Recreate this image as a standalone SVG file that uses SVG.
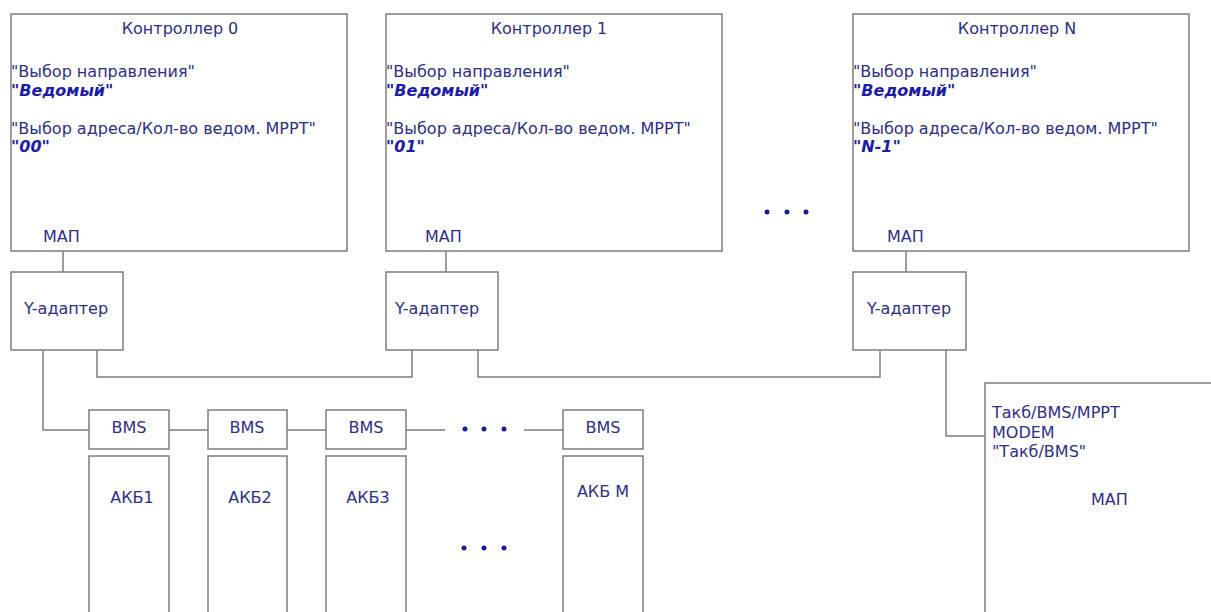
<svg xmlns="http://www.w3.org/2000/svg" width="1211" height="612" viewBox="0 0 1211 612">
<style>
.box{fill:#fff;stroke:#7d7d7d;stroke-width:1.5}
.ln{fill:none;stroke:#7d7d7d;stroke-width:1.5}
text{font-family:"DejaVu Sans","Liberation Sans",sans-serif;font-size:16px;fill:#2e2e86}
.v{font-weight:bold;font-style:italic;fill:#1c1ca8}
.m{text-anchor:middle}
.dot{fill:#1a1a9a}
</style>
<rect width="1211" height="612" fill="#fff"/>
<g id="connectors">
<path class="ln" d="M63 251V272"/>
<path class="ln" d="M446 251V272"/>
<path class="ln" d="M906 251V272"/>
<path class="ln" d="M43 350V430H89"/>
<path class="ln" d="M97 350V377H412V350"/>
<path class="ln" d="M478 350V377H880V350"/>
<path class="ln" d="M946 350V436H985"/>
<path class="ln" d="M169 430H208"/>
<path class="ln" d="M287 430H326"/>
<path class="ln" d="M406 430H445"/>
<path class="ln" d="M524 430H563"/>
</g>
<g id="ctrl0">
<rect class="box" x="11" y="14" width="336" height="237"/>
<text class="m" x="180" y="34">Контроллер 0</text>
<text x="11" y="77">"Выбор направления"</text>
<text class="v" x="11" y="96">"Ведомый"</text>
<text x="11" y="134">"Выбор адреса/Кол-во ведом. MPPT"</text>
<text class="v" x="11" y="152">"00"</text>
<text x="43" y="242">МАП</text>
</g>
<g id="ctrl1">
<rect class="box" x="386" y="14" width="336" height="237"/>
<text class="m" x="549" y="34">Контроллер 1</text>
<text x="386" y="77">"Выбор направления"</text>
<text class="v" x="386" y="96">"Ведомый"</text>
<text x="386" y="134">"Выбор адреса/Кол-во ведом. MPPT"</text>
<text class="v" x="386" y="152">"01"</text>
<text x="425" y="242">МАП</text>
</g>
<g id="ctrlN">
<rect class="box" x="853" y="14" width="336" height="237"/>
<text class="m" x="1017" y="34">Контроллер N</text>
<text x="853" y="77">"Выбор направления"</text>
<text class="v" x="853" y="96">"Ведомый"</text>
<text x="853" y="134">"Выбор адреса/Кол-во ведом. MPPT"</text>
<text class="v" x="853" y="152">"N-1"</text>
<text x="887" y="242">МАП</text>
</g>
<g id="dots-ctrl">
<circle class="dot" cx="767" cy="212" r="2.5"/>
<circle class="dot" cx="787" cy="212" r="2.5"/>
<circle class="dot" cx="806" cy="212" r="2.5"/>
</g>
<g id="yad0">
<rect class="box" x="11" y="272" width="112" height="78"/>
<text class="m" x="66" y="314">Y-адаптер</text>
</g>
<g id="yad1">
<rect class="box" x="386" y="272" width="112" height="78"/>
<text class="m" x="437" y="314">Y-адаптер</text>
</g>
<g id="yadN">
<rect class="box" x="853" y="272" width="113" height="78"/>
<text class="m" x="909" y="314">Y-адаптер</text>
</g>
<g id="map">
<path class="ln" d="M1213 383H985V614"/>
<text x="992" y="418">Такб/BMS/MPPT</text>
<text x="992" y="438">MODEM</text>
<text x="992" y="457">"Такб/BMS"</text>
<text x="1091" y="505">МАП</text>
</g>
<g id="bms1">
<rect class="box" x="89" y="410" width="80" height="39"/>
<text class="m" x="129" y="433">BMS</text>
</g>
<g id="bms2">
<rect class="box" x="208" y="410" width="79" height="39"/>
<text class="m" x="247" y="433">BMS</text>
</g>
<g id="bms3">
<rect class="box" x="326" y="410" width="80" height="39"/>
<text class="m" x="366" y="433">BMS</text>
</g>
<g id="dots-bms">
<circle class="dot" cx="465" cy="429" r="2.5"/>
<circle class="dot" cx="484" cy="429" r="2.5"/>
<circle class="dot" cx="504" cy="429" r="2.5"/>
</g>
<g id="bmsM">
<rect class="box" x="563" y="410" width="80" height="39"/>
<text class="m" x="603" y="433">BMS</text>
</g>
<g id="akb1">
<rect class="box" x="89" y="456" width="80" height="160"/>
<text class="m" x="132" y="503">АКБ1</text>
</g>
<g id="akb2">
<rect class="box" x="208" y="456" width="79" height="160"/>
<text class="m" x="250" y="503">АКБ2</text>
</g>
<g id="akb3">
<rect class="box" x="326" y="456" width="80" height="160"/>
<text class="m" x="368" y="503">АКБ3</text>
</g>
<g id="dots-akb">
<circle class="dot" cx="464" cy="548" r="2.5"/>
<circle class="dot" cx="484" cy="548" r="2.5"/>
<circle class="dot" cx="504" cy="548" r="2.5"/>
</g>
<g id="akbM">
<rect class="box" x="563" y="456" width="80" height="160"/>
<text class="m" x="603" y="497">АКБ M</text>
</g>
</svg>
